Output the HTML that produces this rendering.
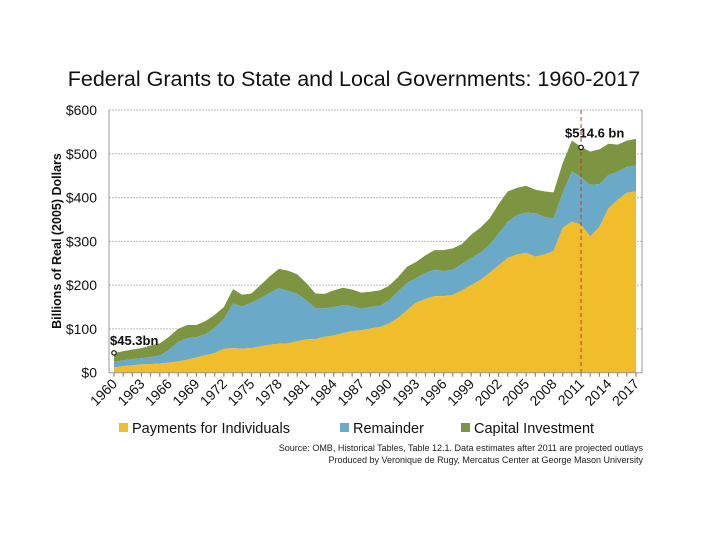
<!DOCTYPE html>
<html><head><meta charset="utf-8"><style>
body{margin:0;background:#fff;width:720px;height:540px;overflow:hidden;font-family:"Liberation Sans",sans-serif}
</style></head><body>
<svg width="720" height="540" xmlns="http://www.w3.org/2000/svg" id="svg">
<text x="354" y="86" text-anchor="middle" font-size="21.5" fill="#111">Federal Grants to State and Local Governments: 1960-2017</text>
<text transform="translate(61,241) rotate(-90)" text-anchor="middle" font-size="12.5" font-weight="bold" fill="#111">Billions of Real (2005) Dollars</text>
<g id="grid"></g><g id="areas"></g><g id="axes"></g>
<g>
<rect x="119" y="423" width="9" height="9" fill="#f0bd2d"/>
<text x="132" y="433" font-size="14.5" fill="#111">Payments for Individuals</text>
<rect x="340" y="423" width="9" height="9" fill="#6aa9c8"/>
<text x="353" y="433" font-size="14.5" fill="#111">Remainder</text>
<rect x="461" y="423" width="9" height="9" fill="#7d9540"/>
<text x="474" y="433" font-size="14.5" fill="#111">Capital Investment</text>
</g>
<text x="643" y="451" text-anchor="end" font-size="9" fill="#222">Source: OMB, Historical Tables, Table 12.1. Data estimates after 2011 are projected outlays</text>
<text x="643" y="463" text-anchor="end" font-size="9" fill="#222">Produced by Veronique de Rugy, Mercatus Center at George Mason University</text>
</svg>
<script>
const years=[];for(let y=1960;y<=2017;y++)years.push(y);
const individuals=[12,15,17,19,20,21,23,26,30,35,40,45,55,56,55,56,60,64,66,67,72,76,77,82,85,90,95,97,101,104,112,125,143,160,168,175,175,178,188,200,212,228,245,262,270,274,265,270,278,331,345,338,311,333,376,395,411,414];
const remainder=[13,13,14,14,16,18,29,44,49,46,48,57,67,102,96,104,110,118,127,120,108,89,70,65,65,64,57,49,49,48,53,60,62,56,60,60,57,57,60,62,62,64,73,83,90,92,99,86,74,80,115,108,118,98,76,64,59,59];
const capital=[20,21,22,23,26,28,30,30,30,28,30,30,28,33,27,21,30,38,44,46,45,40,34,33,38,40,38,37,35,36,33,33,37,37,40,45,48,49,46,53,57,60,67,69,62,61,54,58,60,68,70,70,76,79,71,62,60,61];
const yTicks=[0,100,200,300,400,500,600];
const yTickLabels=["$0","$100","$200","$300","$400","$500","$600"];
const ann1={year:1960,value:45.3,label:"$45.3bn"};
const ann2={year:2011,value:514.6,label:"$514.6 bn"};

const NS="http://www.w3.org/2000/svg";
const X0=114,X1=636,PL=109,PR=642,Y0=372.7,Y1=110;
const xs=y=>X0+(y-1960)*(X1-X0)/57;
const ys=v=>Y0-v*(Y0-Y1)/600;
function mk(tag,attrs,parent){const e=document.createElementNS(NS,tag);for(const k in attrs)e.setAttribute(k,attrs[k]);parent.appendChild(e);return e;}
const grid=document.getElementById('grid'),areas=document.getElementById('areas'),axes=document.getElementById('axes');
yTicks.forEach((t,i)=>{
 if(t>0){const l=mk('line',{x1:PL,x2:PR,y1:ys(t),y2:ys(t),stroke:'#bbb','stroke-dasharray':'2,1','stroke-width':1},grid);
 
 }
 const tx=mk('text',{x:97,y:ys(t)+5,'text-anchor':'end','font-size':14,fill:'#111'},axes);tx.textContent=yTickLabels[i];
 
 
});
const s1=individuals,s2=individuals.map((v,i)=>v+remainder[i]),s3=s2.map((v,i)=>v+capital[i]);
function area(top,bot,color,name){
 let d='M'+years.map((y,i)=>xs(y)+','+ys(top[i])).join('L');
 for(let i=years.length-1;i>=0;i--)d+='L'+xs(years[i])+','+ys(bot?bot[i]:0);
 const p=mk('path',{d:d+'Z',fill:color},areas);
 
 
}
area(s3,s2,'#7d9540','area-capital-investment');
area(s2,s1,'#6aa9c8','area-remainder');
area(s1,null,'#f0bd2d','area-payments-for-individuals');
const fr=mk('path',{d:`M${PL},${Y1}V${Y0}H${PR}V${Y1}`,fill:'none',stroke:'#999','stroke-width':1},axes);


years.forEach(y=>{
 mk('line',{x1:xs(y),x2:xs(y),y1:Y0,y2:Y0+4,stroke:'#777'},axes);
 if((y-1960)%3===0){
  const t=mk('text',{transform:`translate(${xs(y)+4},${Y0+12}) rotate(-45)`,'text-anchor':'end','font-size':14,fill:'#111'},axes);
  t.textContent=y;
  
  
 }
});
const dl=mk('line',{x1:xs(2011),x2:xs(2011),y1:Y1,y2:Y0,stroke:'#c0392b','stroke-dasharray':'4,3','stroke-width':1},axes);


[ann1,ann2].forEach((a,i)=>{
 const c=mk('circle',{cx:xs(a.year),cy:ys(a.value),r:2.2,fill:'#fff',stroke:'#111','stroke-width':1.2},axes);
 
 
 const t=mk('text',{x:i?xs(a.year)-16:xs(a.year)-4,y:ys(a.value)-(i?10:8),'font-size':13,'font-weight':'bold',fill:'#111'},axes);
 t.textContent=a.label;
 
 
});
</script>
</body></html>
